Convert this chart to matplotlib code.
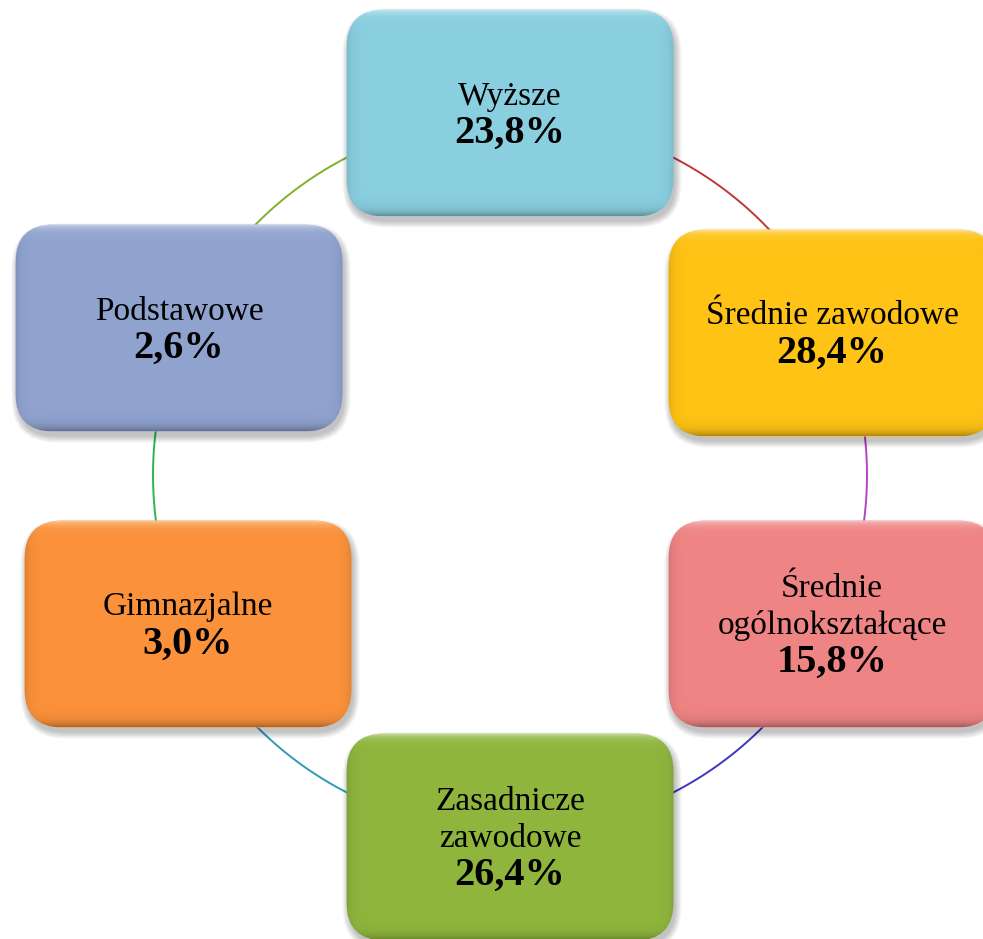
import numpy as np
import matplotlib
matplotlib.use("Agg")
import matplotlib.pyplot as plt
from matplotlib.patches import FancyBboxPatch

# data
labels = ["Wyższe", "Średnie zawodowe", "Średnie\nogólnokształcące",
          "Zasadnicze\nzawodowe", "Gimnazjalne", "Podstawowe"]
shares = [23.8, 28.4, 15.8, 26.4, 3.0, 2.6]
box_colors = ["#89CFE0", "#FEC314", "#EF8484", "#8FB53D", "#FB913A", "#90A3CF"]
arc_colors = ["#C0363A", "#B543C2", "#3F36C0", "#2E9CB8", "#2EB352", "#80B02E"]

# layout (pixel coords, y downwards)
W, H = 983, 939
centers = [(510, 113), (832, 333), (832, 624), (510, 837), (188, 624), (179, 328)]
bw, bh, rad = 327, 207, 38
cx, cy, r = 510, 475, 357

fig = plt.figure(figsize=(W / 100, H / 100), dpi=100)
ax = fig.add_axes([0, 0, 1, 1])
ax.set_xlim(0, W)
ax.set_ylim(H, 0)
ax.axis("off")

# connector arcs between neighbouring boxes
for i, col in enumerate(arc_colors):
    th = np.radians(np.linspace(60 * i, 60 * (i + 1), 200))
    ax.plot(cx + r * np.sin(th), cy - r * np.cos(th), color=col, lw=1.4, zorder=1)


def bevel(w, h):
    yy, xx = np.mgrid[0:int(h), 0:int(w)]
    d_top = yy
    d_bot = h - 1 - yy
    d_side = np.minimum(xx, w - 1 - xx)
    img = np.zeros((int(h), int(w), 4))
    light = 0.55 * np.exp(-d_top / 4.0)
    dark = 0.30 * np.exp(-d_bot / 5.0) + 0.10 * np.exp(-d_side / 5.0)
    a = np.clip(light + dark, 0, 1)
    rgb = light / np.maximum(a, 1e-6)
    img[..., 0] = rgb
    img[..., 1] = rgb
    img[..., 2] = rgb
    img[..., 3] = a
    return img


for (x, y), lab, val, col in zip(centers, labels, shares, box_colors):
    x0, y0 = x - bw / 2, y - bh / 2
    # soft shadow
    for k in range(7):
        sh = FancyBboxPatch((x0 + 2 - k, y0 + 5 - k), bw + 2 * k, bh + 2 * k,
                            boxstyle=f"round,pad=0,rounding_size={rad + k}",
                            fc="black", ec="none", alpha=0.035, zorder=2)
        ax.add_patch(sh)
    box = FancyBboxPatch((x0, y0), bw, bh,
                         boxstyle=f"round,pad=0,rounding_size={rad}",
                         fc=col, ec="none", zorder=3)
    ax.add_patch(box)
    im = ax.imshow(bevel(bw, bh), extent=(x0, x0 + bw, y0 + bh, y0),
                   origin="upper", zorder=4, interpolation="bilinear")
    im.set_clip_path(box)

    lines = lab.split("\n")
    total = 21 + 37 * (len(lines) - 1) + 38
    base = y - total / 2 + 21
    for j, ln in enumerate(lines):
        ax.text(x, base + 37 * j, ln, ha="center", va="baseline",
                fontsize=24, family="Liberation Serif", zorder=5)
    ax.text(x, base + 37 * (len(lines) - 1) + 38, f"{val:.1f}%".replace(".", ","),
            ha="center", va="baseline", fontsize=29, fontweight="bold",
            family="Liberation Serif", zorder=5)

ax.set_aspect("auto")
fig.savefig("out.png", dpi=100, facecolor="white")
